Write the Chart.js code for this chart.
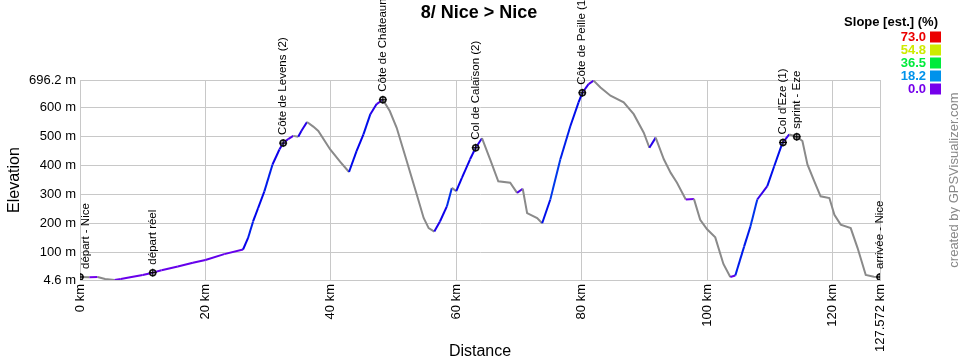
<!DOCTYPE html>
<html>
<head>
<meta charset="utf-8">
<script src="https://cdn.jsdelivr.net/npm/chart.js@4/dist/chart.umd.min.js"></script>
<style>
html,body{margin:0;padding:0;background:#fff;}
#wrap{width:960px;height:360px;position:relative;}
</style>
</head>
<body>
<div id="wrap"><canvas id="c" width="960" height="360"></canvas></div>
<script>
// ---- data ----
const chartTitle = "8/ Nice > Nice";
const distanceKm = [0,1.5,2.8,4,5.5,6.5,8,10,11.6,13,15.6,18,20,23,26,26.8,27.6,28.4,29.4,30.7,31.8,32.4,33.2,34,34.8,35.3,36.2,37.2,38,39.9,41.5,42.9,44.1,45.2,46.3,47.3,48.3,49.4,50.5,52.1,53.7,54.8,55.6,56.5,57.4,58.5,59.3,60.0,60.9,62.2,63.1,64.1,65.4,66.7,68.6,69.7,70.6,71.3,72.9,73.7,75,76.6,78.2,79.5,80.1,81.1,81.9,83,84.6,86.7,88.3,89.9,90.8,91.8,93.1,94.2,95.2,96.6,97.9,98.9,100,101.3,102.6,103.7,104.5,105.9,106.9,108,109.6,110.7,112,113.1,114.3,115.2,116,117.1,118.1,119.5,120.3,121.3,122.9,124,125.3,126.6,127.572];
const elevationM = [15,14,15,8,5,8,14,22,30,38,51,64,74,94,110,150,207,253,311,404,456,478,492,503,500,520,551,535,520,456,413,378,450,508,578,613,628,589,531,416,300,219,184,172,207,259,323,312,358,422,462,495,422,346,341,306,320,236,219,201,283,422,537,619,652,682,694,670,642,619,578,514,462,497,422,375,341,283,285,213,180,152,60,15,20,120,189,283,329,398,478,508,500,485,404,346,294,288,230,196,184,115,22,16,15];
const waypointNames = ["départ - Nice","départ réel","Côte de Levens (2)","Côte de Châteauneuf","Col de Calaïson (2)","Côte de Peille (1)","Col d'Eze (1)","sprint - Eze","arrivée - Nice"];
const waypointKm = [0,11.6,32.4,48.3,63.1,80.1,112.1,114.3,127.572];
const waypointElev = [15,30,478,628,462,652,480,500,15];
const xTickValues = [0,20,40,60,80,100,120,127.572];
const yTickValues = [4.6,100,200,300,400,500,600,696.2];
const slopeLegendValues = [73.0,54.8,36.5,18.2,0.0];
const slopeMax = 73.0;

// ---- styling helpers ----
const FONT = "'Liberation Sans', Arial, sans-serif";
function legendColor(s){
  const hue = 270 - s / slopeMax * 270;
  return `hsl(${hue},100%,46%)`;
}
function slopeColor(s){
  const v = Math.max(0, Math.min(slopeMax, s)) / slopeMax;
  const hue = 270 - Math.pow(v, 0.85) * 270;
  return `hsl(${hue},100%,46%)`;
}

const overlay = {
  id: 'overlay',
  afterDraw(chart){
    const {ctx, chartArea, scales} = chart;
    ctx.save();
    ctx.fillStyle = '#000';
    ctx.font = `bold 18px ${FONT}`;
    ctx.textAlign = 'center'; ctx.textBaseline = 'middle';
    ctx.fillText(chartTitle, 479, 13);
    ctx.font = `16px ${FONT}`;
    ctx.fillText('Distance', (chartArea.left + chartArea.right) / 2, 352);
    ctx.save();
    ctx.translate(15, (chartArea.top + chartArea.bottom) / 2);
    ctx.rotate(-Math.PI / 2);
    ctx.fillText('Elevation', 0, 0);
    ctx.restore();
    ctx.save();
    ctx.fillStyle = '#888';
    ctx.font = `13px ${FONT}`;
    ctx.translate(954, 180);
    ctx.rotate(-Math.PI / 2);
    ctx.fillText('created by GPSVisualizer.com', 0, 0);
    ctx.restore();
    ctx.font = `bold 13px ${FONT}`;
    ctx.textAlign = 'right';
    ctx.fillStyle = '#000';
    ctx.fillText('Slope [est.] (%)', 938, 22);
    slopeLegendValues.forEach((v, i) => {
      const y = 37 + i * 13;
      ctx.fillStyle = legendColor(v);
      ctx.fillText(v.toFixed(1), 926, y);
      ctx.fillRect(930, y - 5.5, 11, 11);
    });
    ctx.font = `11.5px ${FONT}`;
    ctx.fillStyle = '#000';
    ctx.textAlign = 'left'; ctx.textBaseline = 'middle';
    waypointNames.forEach((name, i) => {
      let px = scales.x.getPixelForValue(waypointKm[i]);
      const py = scales.y.getPixelForValue(waypointElev[i]);
      px = Math.max(px, chartArea.left + 6);
      ctx.save();
      ctx.translate(px, py - 8);
      ctx.rotate(-Math.PI / 2);
      ctx.fillText(name, 0, 0);
      ctx.restore();
    });
    ctx.restore();
  }
};

const profile = distanceKm.map((d, i) => ({x: d, y: elevationM[i]}));
const wps = waypointKm.map((d, i) => ({x: d, y: waypointElev[i]}));

new Chart(document.getElementById('c'), {
  type: 'line',
  data: {
    datasets: [
      {
        data: wps, showLine: false, order: 0,
        pointStyle: 'cross', pointRadius: 4, pointBorderWidth: 1,
        pointBorderColor: '#000'
      },
      {
        data: wps, showLine: false, order: 1,
        pointStyle: 'circle', pointRadius: 3, pointBorderWidth: 1.5,
        pointBorderColor: '#111', pointBackgroundColor: 'rgba(150,150,150,0.35)'
      },
      {
        data: profile, order: 2,
        borderWidth: 2, pointRadius: 0, tension: 0,
        borderColor: '#888',
        segment: {
          borderColor: c => {
            const dy = c.p1.parsed.y - c.p0.parsed.y;
            const dx = (c.p1.parsed.x - c.p0.parsed.x) * 1000;
            const s = dy / dx * 100;
            return s < 0 ? '#8a8a8a' : slopeColor(s);
          }
        }
      }
    ]
  },
  options: {
    responsive: false,
    animation: false,
    events: [],
    layout: {padding: {top: 80, right: 80, left: 0, bottom: 0}},
    plugins: {legend: {display: false}, tooltip: {enabled: false}, title: {display: false}},
    scales: {
      x: {
        type: 'linear', min: 0, max: 127.572,
        afterBuildTicks: s => { s.ticks = xTickValues.map(v => ({value: v})); },
        afterFit: s => { s.height = 80; },
        grid: {color: '#c8c8c8', drawTicks: false, lineWidth: 1},
        border: {color: '#c8c8c8'},
        ticks: {
          minRotation: 90, maxRotation: 90, padding: 4, autoSkip: false,
          color: '#000', font: {family: FONT, size: 13},
          callback: v => v + ' km'
        }
      },
      y: {
        type: 'linear', min: 4.6, max: 696.2,
        afterBuildTicks: s => { s.ticks = yTickValues.map(v => ({value: v})); },
        afterFit: s => { s.width = 80; },
        grid: {color: '#c8c8c8', drawTicks: false, lineWidth: 1},
        border: {color: '#c8c8c8'},
        ticks: {
          padding: 4, autoSkip: false,
          color: '#000', font: {family: FONT, size: 13},
          callback: v => v + ' m'
        }
      }
    }
  },
  plugins: [overlay]
});
</script>
</body>
</html>
